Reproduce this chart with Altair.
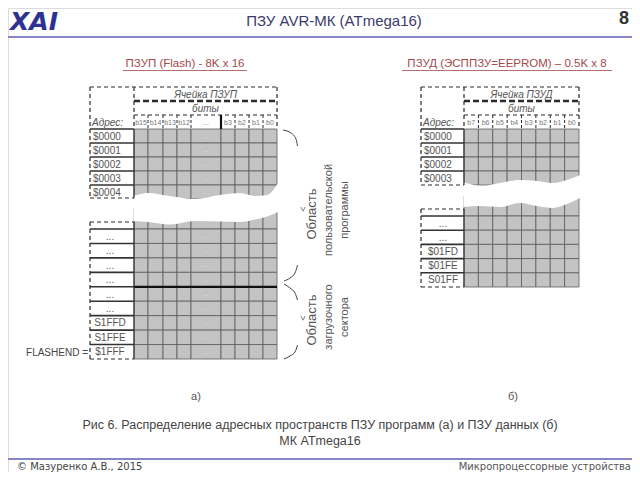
import altair as alt
import pandas as pd

# ---------------- data: text content ----------------
page_title = "ПЗУ AVR-МК (ATmega16)"
page_number = "8"
logo_text = "XAI"
flash_title = "ПЗУП (Flash) - 8K x 16"
eeprom_title = "ПЗУД (ЭСППЗУ=EEPROM) – 0.5K x 8"
cell_flash = "Ячейка ПЗУП"
cell_eeprom = "Ячейка ПЗУД"
bits_word = "биты"
addr_word = "Адрес:"
flash_bits = ["b15", "b14", "b13", "b12", "...", "b3", "b2", "b1", "b0"]
eeprom_bits = ["b7", "b6", "b5", "b4", "b3", "b2", "b1", "b0"]
flash_addr_top = ["$0000", "$0001", "$0002", "$0003", "$0004"]
flash_addr_bottom = ["...", "...", "...", "...", "...", "...", "S1FFD", "S1FFE", "$1FFF"]
eeprom_addr_top = ["$0000", "$0001", "$0002", "$0003"]
eeprom_addr_bottom = ["...", "...", "$01FD", "$01FE", "S01FF"]
flashend_label = "FLASHEND ="
region_user = ["Область", "пользовательской", "программы"]
region_boot = ["Область", "загрузочного", "сектора"]
panel_labels = ["а)", "б)"]
caption = ["Рис 6. Распределение адресных пространств ПЗУ программ (а) и ПЗУ данных (б)",
           "МК ATmega16"]
footer_left = "© Мазуренко А.В., 2015"
footer_right = "Микропроцессорные устройства"

# break (wavy cut) outlines
flash_wave_x = [133.5, 148, 170, 195, 220, 240, 255, 267, 278]
flash_wave_top = [196, 193, 196, 199, 195, 193, 196, 195, 183]
flash_wave_bottom = [221, 222, 224.5, 221, 221.5, 222, 219.5, 216.5, 212]
eeprom_wave_x = [463.5, 482, 500, 520, 537, 553, 567, 580]
eeprom_wave_top = [182, 186, 183, 180, 181, 183, 180, 175]
eeprom_wave_bottom = [207, 206, 207, 203, 206, 208, 204, 198]

# ---------------- layout ----------------
XS = alt.Scale(domain=[8, 632])
YS = alt.Scale(domain=[8, 472], reverse=True)
FONT = "Liberation Sans"
DASH = [4, 3]
INK = "#2a2a2a"
GRID = "#5c5c5c"
GRAY = "#c3c3c3"
TXT = "#555555"


def xy():
    return dict(x=alt.X("x:Q", scale=XS, axis=None), y=alt.Y("y:Q", scale=YS, axis=None))


def segs(rows, color=INK, width=1.0, dash=None):
    df = pd.DataFrame(rows, columns=["x", "y", "x2", "y2"])
    kw = dict(color=color, strokeWidth=width)
    if dash:
        kw["strokeDash"] = dash
    return alt.Chart(df).mark_rule(**kw).encode(**xy(), x2="x2:Q", y2="y2:Q")


def rects(rows, fill, stroke, sw):
    df = pd.DataFrame(rows, columns=["x", "y", "x2", "y2"])
    return alt.Chart(df).mark_rect(fill=fill, stroke=stroke, strokeWidth=sw).encode(
        **xy(), x2="x2:Q", y2="y2:Q")


def texts(rows, **mk):
    df = pd.DataFrame(rows, columns=["x", "y", "t"])
    mk.setdefault("font", FONT)
    return alt.Chart(df).mark_text(**mk).encode(**xy(), text="t:N")


def wave(xs, top, bottom):
    df = pd.DataFrame({"x": xs, "y": top, "y2": bottom})
    return alt.Chart(df).mark_area(color="white", interpolate="monotone").encode(**xy(), y2="y2:Q")


layers = []


def table(L, A, col_w, bits, top_rows, bottom_rows, bottom_top, bottom_step,
          gray_top_lower, upper_bottom, cell_word, dots_col=None, thick_row=None, lower_label_x=None,
          wx=None, wt=None, wb=None):
    edges = [A]
    for w in col_w:
        edges.append(edges[-1] + w)
    R = edges[-1]
    H0, H1, H2, H3 = 87, 101, 115, 129
    step = 14
    up_edges = [H3 + i * step for i in range(len(top_rows) + 1)]
    lo_edges = [bottom_top + i * bottom_step for i in range(len(bottom_rows) + 1)]
    # gray cells
    cells = []
    for i in range(len(col_w)):
        for j in range(len(top_rows)):
            cells.append((edges[i], up_edges[j], edges[i + 1], up_edges[j + 1]))
        cells.append((edges[i], gray_top_lower, edges[i + 1], lo_edges[0]))
        for j in range(len(bottom_rows)):
            cells.append((edges[i], lo_edges[j], edges[i + 1], lo_edges[j + 1]))
    layers.append(rects(cells, GRAY, GRID, 0.8))
    if thick_row is not None:
        y = lo_edges[thick_row]
        layers.append(segs([(A, y, R, y)], "#111", 2.2))
    if dots_col is not None:
        cx = (edges[dots_col] + edges[dots_col + 1]) / 2
        rows = [(cx, (up_edges[j] + up_edges[j + 1]) / 2, "...") for j in range(len(top_rows))]
        rows += [(cx, (lo_edges[j] + lo_edges[j + 1]) / 2, "...") for j in range(len(bottom_rows))]
        layers.append(texts(rows, fontSize=8, color="#e2e2e2", align="center", baseline="middle"))
    layers.append(wave(wx, wt, wb))
    # header frame
    top_lower = lo_edges[0] - 7
    layers.append(segs([(L, H0, R, H0), (R, H0, R, H3), (A, H0, A, H3),
                        (L, H0, L, upper_bottom), (L, upper_bottom, A, upper_bottom),
                        (A, H2, R, H2),
                        (L, top_lower, A, top_lower),
                        ], INK, 1.2, DASH))
    layers.append(segs([(A, H1, R, H1)], INK, 2.4, [6, 3]))
    bit_v = [(edges[i], H2, edges[i], H3) for i in range(1, len(col_w))]
    layers.append(segs(bit_v, INK, 1.0, [3, 2]))
    # address column solid separators
    sep = [(L, y, A, y) for y in up_edges[:-1]] + [(L, y, A, y) for y in lo_edges[:-1]]
    layers.append(segs(sep, "#333", 1.6))
    layers.append(segs([(A, H3, A, upper_bottom), (A, top_lower, A, lo_edges[-1])], "#333", 1.2))
    layers.append(segs([(L, top_lower, L, lo_edges[-1]), (L, lo_edges[-1], A, lo_edges[-1])],
                       INK, 1.2, DASH))
    # texts
    mid = (A + R) / 2
    layers.append(texts([(mid, (H0 + H1) / 2 + 0.5, cell_word), (mid, (H1 + H2) / 2 + 0.5, bits_word)],
                        fontSize=10, fontStyle="italic", color=TXT, align="center", baseline="middle"))
    layers.append(texts([(L + 2, (H2 + H3) / 2 + 0.5, addr_word)],
                        fontSize=10, fontStyle="italic", color=TXT, align="left", baseline="middle"))
    brow = [((edges[i] + edges[i + 1]) / 2, (H2 + H3) / 2 + 0.5, b) for i, b in enumerate(bits)]
    layers.append(texts(brow, fontSize=7, color="#777", align="center", baseline="middle"))
    arow = [(L + 3, (up_edges[j] + up_edges[j + 1]) / 2 + 0.5, t) for j, t in enumerate(top_rows)]
    layers.append(texts(arow, fontSize=10, color=TXT, align="left", baseline="middle"))
    lrow = [(lower_label_x, (lo_edges[j] + lo_edges[j + 1]) / 2 + 0.5, t) for j, t in enumerate(bottom_rows)]
    layers.append(texts(lrow, fontSize=10, color=TXT, align="center", baseline="middle"))
    return lo_edges


flash_lo = table(90, 134, [14, 15, 14, 14, 30, 14, 14, 14, 14], flash_bits,
                 flash_addr_top, flash_addr_bottom, 229, 130 / 9, 208, 198, cell_flash,
                 dots_col=4, thick_row=4, lower_label_x=110,
                 wx=flash_wave_x, wt=flash_wave_top, wb=flash_wave_bottom)
layers.append(segs([(221, 115, 221, 129)], "#111", 2.2))
eeprom_lo = table(421, 464, [14.375] * 8, eeprom_bits,
                  eeprom_addr_top, eeprom_addr_bottom, 216, 14.2, 196, 185, cell_eeprom,
                  lower_label_x=443,
                  wx=eeprom_wave_x, wt=eeprom_wave_top, wb=eeprom_wave_bottom)

layers.append(texts([(88, 352.5, flashend_label)], fontSize=10, color="#444", align="right", baseline="middle"))

# braces
brace = pd.DataFrame({
    "x": [283, 291, 296, 297.5, 297.5, 295, 290, 284, 284, 290, 295, 297.5, 297.5, 295, 290, 284],
    "y": [130, 133, 139, 146, 265, 273, 278, 281, 284, 288, 293, 300, 345, 352, 356, 359],
    "g": [0, 0, 0, 0, 1, 1, 1, 1, 2, 2, 2, 2, 3, 3, 3, 3],
    "o": list(range(16)),
})
layers.append(alt.Chart(brace).mark_line(color="#444", strokeWidth=1, interpolate="monotone").encode(
    **xy(), detail="g:N", order="o:Q"))
layers.append(texts([(303, 209, "<"), (303, 318, "<")], fontSize=9, color="#555", angle=270,
                    align="center", baseline="middle"))
rot = [(312, 214, region_user[0]), (312, 320, region_boot[0])]
layers.append(texts(rot, fontSize=13, color=TXT, angle=270, align="center", baseline="middle"))
rot2 = [(328.5, 210, region_user[1]), (345, 210, region_user[2]),
        (328.5, 317, region_boot[1]), (345, 317, region_boot[2])]
layers.append(texts(rot2, fontSize=11, color=TXT, angle=270, align="center", baseline="middle"))

# titles of tables
layers.append(texts([(185, 64, flash_title), (507, 64, eeprom_title)], fontSize=11.5, color="#a04a4a",
                    align="center", baseline="middle"))
layers.append(segs([(123, 70.5, 247, 70.5), (402, 70.5, 612, 70.5)], "#a04a4a", 0.8))

# header
layers.append(texts([(34, 22, logo_text)], font="DejaVu Sans", fontSize=25, fontWeight="bold",
                    fontStyle="italic", color="#2e3192", align="center", baseline="middle"))
layers.append(texts([(334, 21, page_title)], fontSize=15, color="#3b3b6b", align="center", baseline="middle"))
layers.append(texts([(624, 19, page_number)], fontSize=18, fontWeight="bold", color="#333",
                    align="center", baseline="middle"))
layers.append(segs([(8, 37, 632, 37)], "#8587c4", 2))

# bottom texts
layers.append(texts([(196, 397, panel_labels[0]), (513, 397, panel_labels[1])], fontSize=11, color="#555",
                    align="center", baseline="middle"))
layers.append(texts([(320, 425, caption[0]), (320, 441, caption[1])], fontSize=12.5, color="#444",
                    align="center", baseline="middle"))
layers.append(segs([(8, 459, 632, 459)], "#8587c4", 2))
layers.append(texts([(17, 467, footer_left)], font="DejaVu Sans", fontSize=10, color="#444",
                    align="left", baseline="middle"))
layers.append(texts([(631, 467, footer_right)], font="DejaVu Sans", fontSize=10, color="#555",
                    align="right", baseline="middle"))

chart = alt.layer(*layers).properties(
    width=624, height=464, autosize=alt.AutoSizeParams(type="none"), padding=0
).configure_view(stroke=None).configure(background="white")

chart.save("out.html", embed_options={"renderer": "svg", "actions": False})
